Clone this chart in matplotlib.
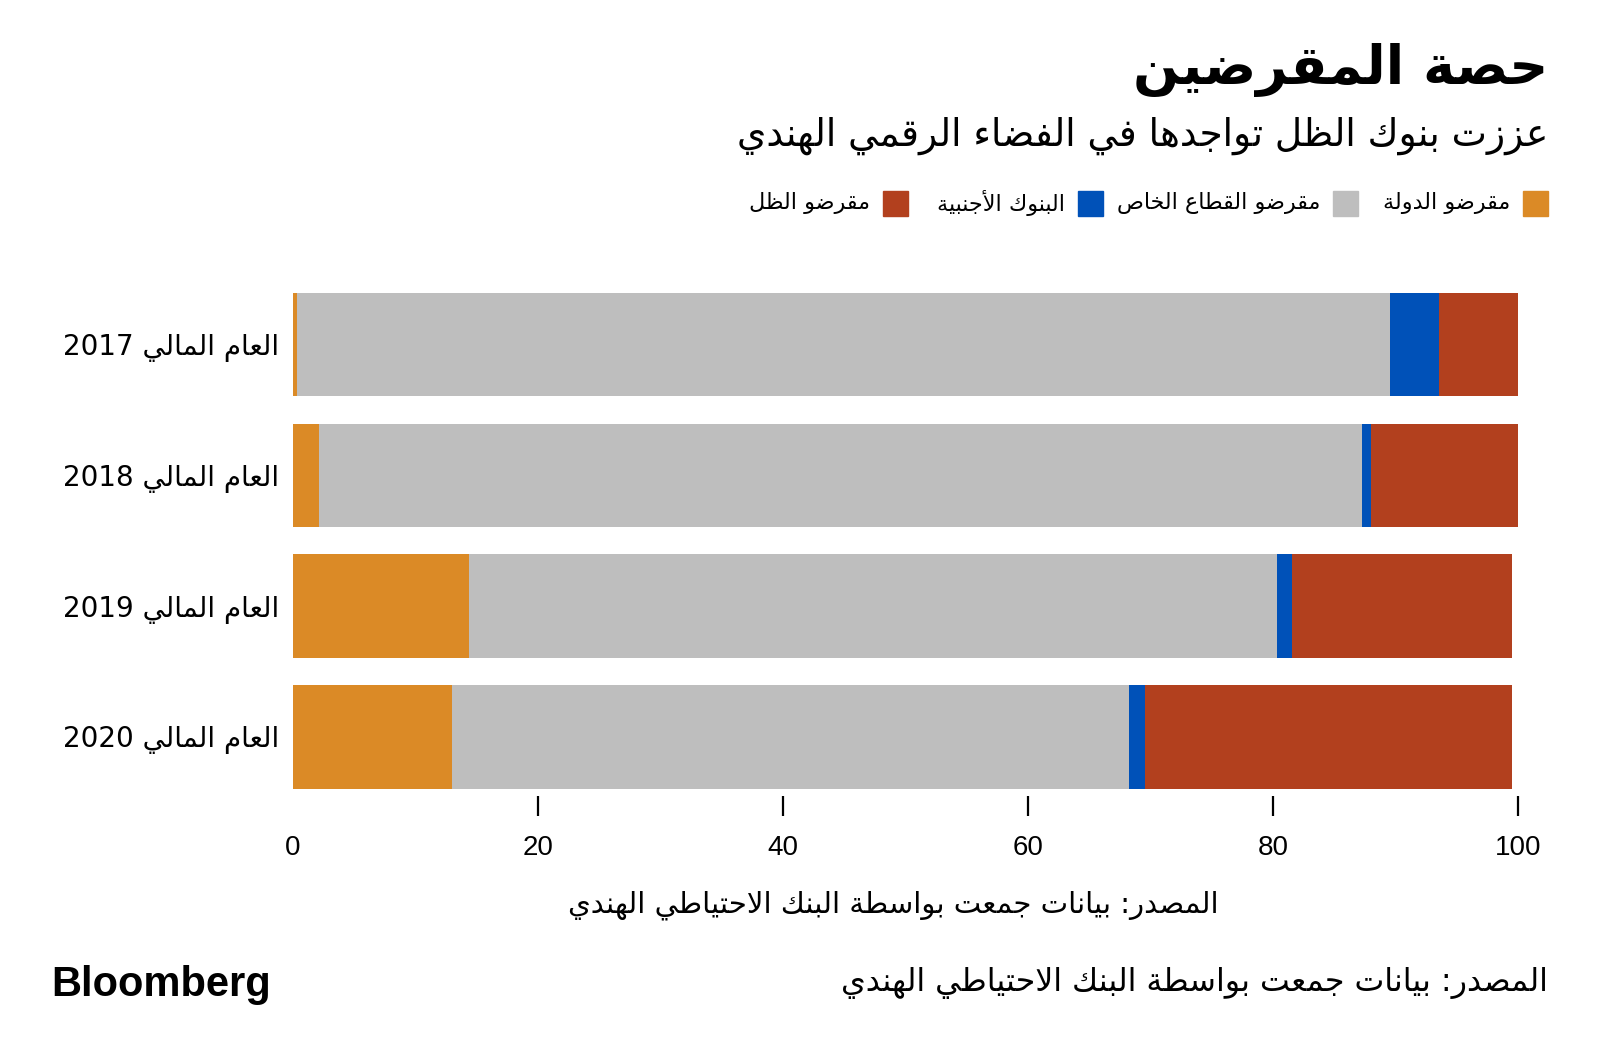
import re
import matplotlib
matplotlib.use("Agg")
import matplotlib.pyplot as plt
from matplotlib.patches import Rectangle

# data (share of lending, %)
years = ["العام المالي 2017", "العام المالي 2018", "العام المالي 2019", "العام المالي 2020"]
series_names = ["مقرضو الدولة", "مقرضو القطاع الخاص", "البنوك الأجنبية", "مقرضو الظل"]
state_lenders = [0.3, 2.1, 14.4, 13.0]
private_lenders = [89.2, 85.1, 65.9, 55.2]
foreign_banks = [4.0, 0.8, 1.2, 1.3]
shadow_lenders = [6.5, 12.0, 18.0, 30.0]
xticks = [0, 20, 40, 60, 80, 100]

colors = ["#DB8A26", "#BEBEBE", "#0051B8", "#B2401E"]

title = "حصة المقرضين"
subtitle = "عززت بنوك الظل تواجدها في الفضاء الرقمي الهندي"
source = "المصدر: بيانات جمعت بواسطة البنك الاحتياطي الهندي"

# --- minimal arabic shaping (matplotlib has no shaping / bidi) ---
FORMS = {
    'ء': (0xFE80, 1), 'آ': (0xFE81, 2), 'أ': (0xFE83, 2), 'ؤ': (0xFE85, 2), 'إ': (0xFE87, 2),
    'ئ': (0xFE89, 4), 'ا': (0xFE8D, 2), 'ب': (0xFE8F, 4), 'ة': (0xFE93, 2), 'ت': (0xFE95, 4),
    'ث': (0xFE99, 4), 'ج': (0xFE9D, 4), 'ح': (0xFEA1, 4), 'خ': (0xFEA5, 4), 'د': (0xFEA9, 2),
    'ذ': (0xFEAB, 2), 'ر': (0xFEAD, 2), 'ز': (0xFEAF, 2), 'س': (0xFEB1, 4), 'ش': (0xFEB5, 4),
    'ص': (0xFEB9, 4), 'ض': (0xFEBD, 4), 'ط': (0xFEC1, 4), 'ظ': (0xFEC5, 4), 'ع': (0xFEC9, 4),
    'غ': (0xFECD, 4), 'ف': (0xFED1, 4), 'ق': (0xFED5, 4), 'ك': (0xFED9, 4), 'ل': (0xFEDD, 4),
    'م': (0xFEE1, 4), 'ن': (0xFEE5, 4), 'ه': (0xFEE9, 4), 'و': (0xFEED, 2), 'ى': (0xFEEF, 2),
    'ي': (0xFEF1, 4),
}
LAM_ALEF = {'آ': 0xFEF5, 'أ': 0xFEF7, 'إ': 0xFEF9, 'ا': 0xFEFB}


def shape(s):
    units = []
    i = 0
    while i < len(s):
        c = s[i]
        if c == 'ل' and i + 1 < len(s) and s[i + 1] in LAM_ALEF:
            units.append((LAM_ALEF[s[i + 1]], 2))
            i += 2
            continue
        units.append(FORMS.get(c, c))
        i += 1
    out = []
    for k, u in enumerate(units):
        if isinstance(u, str):
            out.append(u)
            continue
        base, n = u
        prev = units[k - 1] if k > 0 else None
        nxt = units[k + 1] if k + 1 < len(units) else None
        jp = isinstance(prev, tuple) and prev[1] == 4
        jn = n == 4 and isinstance(nxt, tuple) and nxt[1] > 1
        if n == 1:
            out.append(chr(base))
        elif jp and jn:
            out.append(chr(base + 3))
        elif jp:
            out.append(chr(base + 1))
        elif jn:
            out.append(chr(base + 2))
        else:
            out.append(chr(base))
    return ''.join(out)


def ar(text):
    s = shape(text)
    runs = re.findall(r'[0-9]+|[^0-9]+', s)
    return ''.join(r if r[0].isdigit() else r[::-1] for r in reversed(runs))


plt.rcParams['font.family'] = ['DejaVu Sans']

W, H = 1600, 1064


def fx(x):
    return x / W


def fy(y):
    return 1 - y / H


fig = plt.figure(figsize=(16, 10.64), dpi=100)
fig.patch.set_facecolor("white")

ax = fig.add_axes([fx(293), fy(796), fx(1518.4) - fx(293), (796 - 279) / H])

ypos = list(range(len(years)))
left = [0] * len(years)
for vals, col in zip([state_lenders, private_lenders, foreign_banks, shadow_lenders], colors):
    ax.barh(ypos, vals, left=left, height=0.79, color=col, edgecolor="none")
    left = [a + b for a, b in zip(left, vals)]

ax.set_xlim(0, 100)
ax.set_ylim(3.451, -0.5)
for sp in ax.spines.values():
    sp.set_visible(False)

ax.set_yticks(ypos)
ax.set_yticklabels([ar(y) for y in years], fontsize=20)
ax.tick_params(axis="y", length=0, pad=10)

ax.set_xticks(xticks)
ax.set_xticklabels([str(t) for t in xticks], fontsize=20, family="Liberation Sans")
ax.tick_params(axis="x", length=14.4, width=1.6, pad=14, color="black")
ax.xaxis.get_major_ticks()[0].tick1line.set_visible(False)

ax.set_xlabel(ar(source), fontsize=21)
ax.xaxis.set_label_coords(0.49, -0.183)

# titles
fig.text(fx(1548), fy(70), ar(title), ha="right", va="center", fontsize=39, weight="bold")
fig.text(fx(1548), fy(136), ar(subtitle), ha="right", va="center", fontsize=27)

# legend (right to left)
sq_right = [1548, 1358, 1103, 908]
for name, col, xr in zip(series_names, colors, sq_right):
    fig.patches.append(Rectangle((fx(xr - 25), fy(216)), 25 / W, 25 / H,
                                 transform=fig.transFigure, color=col))
    fig.text(fx(xr - 38), fy(203), ar(name), ha="right", va="center", fontsize=16)

# footer
fig.text(fx(1548), fy(983), ar(source), ha="right", va="center", fontsize=22.8)
fig.text(fx(51), fy(985), "Bloomberg", ha="left", va="center", fontsize=30,
         weight="bold", family="Liberation Sans")

fig.savefig("out.png", dpi=100)
